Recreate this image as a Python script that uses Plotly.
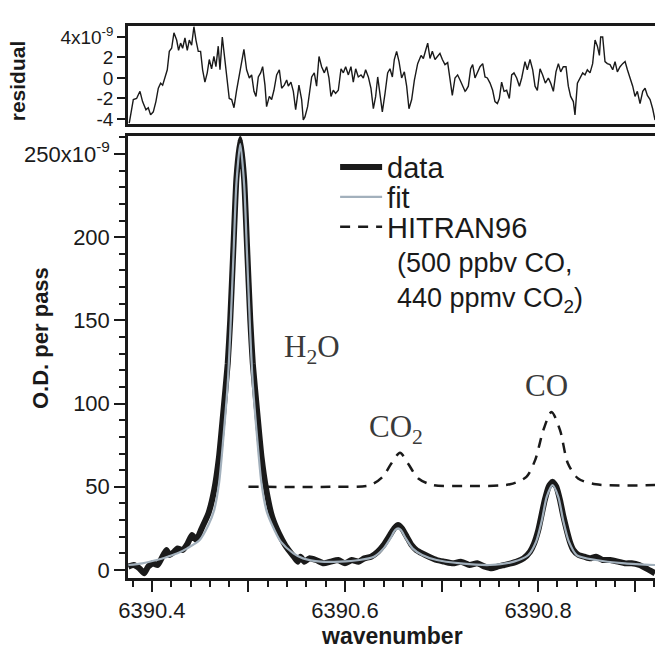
import plotly.graph_objects as go

# ---------------- data ----------------
data_wn = [6390.3755, 6390.381, 6390.387, 6390.392, 6390.396, 6390.401, 6390.406, 6390.410,
           6390.415, 6390.418, 6390.423, 6390.4265, 6390.432, 6390.437, 6390.4415, 6390.446,
           6390.4515, 6390.4585, 6390.4645, 6390.4695, 6390.4738, 6390.4785, 6390.4811, 6390.4845,
           6390.4875, 6390.4915, 6390.4955, 6390.4985, 6390.5019, 6390.5045, 6390.5092, 6390.5135,
           6390.5185, 6390.5245, 6390.5315, 6390.538, 6390.543, 6390.547, 6390.551,
           6390.554, 6390.558, 6390.563, 6390.570, 6390.578, 6390.585, 6390.593, 6390.600,
           6390.607, 6390.614, 6390.620, 6390.627, 6390.634, 6390.640, 6390.6466, 6390.651,
           6390.655, 6390.659, 6390.664, 6390.669, 6390.674, 6390.680, 6390.687, 6390.695,
           6390.703, 6390.712, 6390.720, 6390.729, 6390.737, 6390.745, 6390.752, 6390.758,
           6390.765, 6390.772, 6390.778, 6390.785, 6390.7917, 6390.796, 6390.8003, 6390.804,
           6390.807, 6390.811, 6390.815, 6390.819, 6390.8228, 6390.826, 6390.8297, 6390.833,
           6390.8366, 6390.842, 6390.848, 6390.854, 6390.860, 6390.867, 6390.875, 6390.883,
           6390.890, 6390.897, 6390.905, 6390.912, 6390.9212]
data_od = [2, 3, 1, -2, 2, 4, 3, 7,
           12, 9, 11, 13, 12, 16, 21, 18,
           25, 34, 48, 68, 94, 124, 150, 195,
           235, 259, 235, 195, 150, 124, 94, 68,
           48, 32, 22, 15, 11, 8, 5,
           8, 5, 7, 6, 4, 5, 6, 4,
           6, 5, 7, 8, 11, 15, 21, 25,
           27, 25, 20, 15, 12, 10, 8, 6,
           5, 4, 5, 3, 4, 2, 1, 2,
           3, 4, 5, 7, 11, 16, 24, 34,
           42, 50, 53, 50, 42, 33, 24, 17,
           12, 9, 8, 7, 8, 6, 6, 5,
           4, 4, 3, 1, -2]

fit_wn = [6390.3755, 6390.390, 6390.405, 6390.4165, 6390.4265, 6390.4365, 6390.4495, 6390.4585,
          6390.4645, 6390.4695, 6390.4738, 6390.4785, 6390.4811, 6390.4845, 6390.4875, 6390.4915,
          6390.4955, 6390.4985, 6390.5019, 6390.5045, 6390.5092, 6390.5135, 6390.5185, 6390.5245,
          6390.5335, 6390.5465, 6390.5565, 6390.575, 6390.595, 6390.615, 6390.630, 6390.640,
          6390.647, 6390.652, 6390.655, 6390.658, 6390.663, 6390.670, 6390.680, 6390.695,
          6390.720, 6390.750, 6390.775, 6390.790, 6390.798, 6390.804, 6390.809, 6390.815,
          6390.821, 6390.826, 6390.832, 6390.840, 6390.860, 6390.890, 6390.9212]
fit_od = [3, 4, 6, 8, 10, 13, 18, 27,
          36, 52, 78, 112, 142, 190, 232, 256,
          232, 190, 142, 112, 78, 52, 36, 27,
          17, 10, 7, 5, 5, 6, 8, 13,
          19, 24, 25, 24, 19, 13, 9, 6,
          4, 3, 5, 9, 17, 30, 44, 51,
          44, 30, 17, 9, 6, 4, 3]

hitran_wn = [6390.500, 6390.5845, 6390.626, 6390.639, 6390.648, 6390.657, 6390.6653, 6390.676,
             6390.6914, 6390.722, 6390.771, 6390.788, 6390.797, 6390.8055, 6390.814, 6390.8228,
             6390.831, 6390.8415, 6390.860, 6390.9212]
hitran_od = [50, 50, 51, 56, 64, 70.5, 64, 55,
             51, 50.5, 51.5, 56, 66, 84, 95, 84,
             64, 55, 51.5, 51]

resid_wn = [6390.3765, 6390.3807, 6390.3841, 6390.3876, 6390.3903, 6390.3938, 6390.3962, 6390.3986,
            6390.4014, 6390.4041, 6390.4066, 6390.4090, 6390.4111, 6390.4135, 6390.4159, 6390.4180,
            6390.4204, 6390.4228, 6390.4256, 6390.4276, 6390.4297, 6390.4318, 6390.4342, 6390.4366,
            6390.4387, 6390.4411, 6390.4435, 6390.4456, 6390.4480, 6390.4504, 6390.4525, 6390.4549,
            6390.4573, 6390.4594, 6390.4618, 6390.4642, 6390.4663, 6390.4687, 6390.4705, 6390.4729,
            6390.4750, 6390.4774, 6390.4801, 6390.4826, 6390.4850, 6390.4877, 6390.4912, 6390.4953,
            6390.4981, 6390.5009, 6390.5033, 6390.5057, 6390.5078, 6390.5102, 6390.5126, 6390.5147,
            6390.5171, 6390.5188, 6390.5216, 6390.5240, 6390.5264, 6390.5292, 6390.5320,
            6390.5344, 6390.5371, 6390.5396, 6390.5413, 6390.5440, 6390.5465, 6390.5489, 6390.5523,
            6390.5551, 6390.5568, 6390.5585, 6390.5613, 6390.5655, 6390.5682, 6390.5706, 6390.5731,
            6390.5758, 6390.5786, 6390.5810, 6390.5834, 6390.5855, 6390.5879, 6390.5903, 6390.5931,
            6390.5959, 6390.5983, 6390.6007, 6390.6035, 6390.6062, 6390.6086, 6390.6111, 6390.6138,
            6390.6166, 6390.6190, 6390.6214, 6390.6242, 6390.6269, 6390.6294, 6390.6318, 6390.6339,
            6390.6363, 6390.6387, 6390.6415, 6390.6442, 6390.6466, 6390.6491, 6390.6511, 6390.6535,
            6390.6560, 6390.6587, 6390.6615, 6390.6639, 6390.6663, 6390.6691, 6390.6719, 6390.6753,
            6390.6788, 6390.6812, 6390.6836, 6390.6857, 6390.6881, 6390.6905, 6390.6933, 6390.6960,
            6390.6984, 6390.7009, 6390.7036, 6390.7064, 6390.7088, 6390.7112, 6390.7140, 6390.7167,
            6390.7192, 6390.7216, 6390.7244,
            6390.7254, 6390.7278, 6390.7302, 6390.7323, 6390.7347, 6390.7371, 6390.7399, 6390.7427,
            6390.7451, 6390.7475, 6390.7503, 6390.7530, 6390.7554, 6390.7579, 6390.7599, 6390.7623,
            6390.7648, 6390.7675, 6390.7703, 6390.7727, 6390.7751, 6390.7779, 6390.7807, 6390.7831,
            6390.7865, 6390.7889, 6390.7917, 6390.7945, 6390.7969, 6390.7993, 6390.8021, 6390.8048,
            6390.8076, 6390.8107, 6390.8131, 6390.8159, 6390.8186, 6390.8211, 6390.8235, 6390.8262,
            6390.8290, 6390.8314, 6390.8338, 6390.8366, 6390.8383, 6390.8408, 6390.8435, 6390.8463,
            6390.8487, 6390.8511, 6390.8539, 6390.8566, 6390.8591, 6390.8615, 6390.8636, 6390.8649,
            6390.8670, 6390.8694, 6390.8718, 6390.8746, 6390.8774, 6390.8798, 6390.8822, 6390.8850,
            6390.8877, 6390.8902, 6390.8926, 6390.8953, 6390.8981, 6390.9005, 6390.9029, 6390.9057,
            6390.9085, 6390.9109, 6390.9133, 6390.9161, 6390.9188, 6390.9212]
resid_val = [-4.4, -2.1, -2.0, -1.3, -2.3, -3.1, -2.9, -3.6,
             -3.3, -2.3, -1.0, -0.5, -0.7, 0.0, 0.8, 2.6,
             2.9, 4.4, 3.7, 2.7, 3.4, 2.9, 3.9, 2.7,
             3.7, 3.2, 5.0, 3.7, 2.6, 2.6, 0.8, -0.4,
             0.5, 1.8, 0.9, 2.1, 1.1, 3.1, 0.8, 4.0,
             2.1, -0.2, -2.0, -2.1, -2.9, -1.2, 0.8, 2.8,
             0.8, 0.0, 0.3, -1.3, -1.8, 0.1, 0.5, 1.1,
             -0.7, -2.8, -1.8, -2.1, -1.2, 0.3, 0.8,
             -1.0, -0.7, -0.2, -0.8, -0.4, -1.3, -3.1, -0.7,
             -2.1, -4.1, -3.8, -2.8, 0.1, 0.5, -0.8, 2.1,
             1.1, 0.5, 1.1, 0.0, -1.8, -1.2, -1.5, -1.2,
             0.9, 0.5, 1.1, 0.3, 1.1, -0.4, 0.9, 0.1,
             0.3, 0.0, 0.8, 0.1, -1.0, -3.0, -1.8, 0.1,
             -1.8, -3.3, -1.5, 0.5, 0.9, 0.1, 1.8, 2.6,
             1.6, 0.0, 0.6, -0.8, -3.0, -2.1, -0.2, 1.4,
             2.2, 1.9, 2.7, 3.4, 1.9, 2.6, 1.8, 2.1,
             2.4, 1.8, 1.3, 1.5, 0.0, -1.7, 0.0, 0.3,
             -0.2, -0.8, -1.3,
             -1.2, -0.8, 0.9, 1.3, 0.0, 0.5, 1.1, 1.4,
             0.1, 0.0, -0.5, -1.2, -2.3, -2.5, -2.0, -0.4,
             -1.3, -1.2, -2.0, 0.3, 0.5, 0.0, -0.8, 0.0,
             1.6, 0.8, 1.8, 0.8, -0.8, -1.2, 0.9, 0.3,
             -0.5, 0.0, -0.5, -1.3, 0.6, 1.4, 0.6, 1.1,
             1.1, -0.8, -1.8, -2.3, -3.6, -0.5, 0.0, 0.5,
             0.3, 0.8, 0.5, 1.4, 3.7, 3.1, 2.2, 4.0,
             4.0, 1.6, 1.4, 1.3, 0.8, 1.6, 0.6, 1.1,
             1.4, 1.6, 0.8, 0.1, -0.8, -1.8, -1.3, -2.5,
             -1.3, -1.0, -1.7, -2.1, -3.0, -4.1]

x_range = [6390.3752, 6390.9212]
od_ticks = [0, 50, 100, 150, 200, 250]
od_ticktext = ["0", "50", "100", "150", "200", "250x10<sup>-9</sup>"]
wn_ticks = [6390.4, 6390.5, 6390.6, 6390.7, 6390.8, 6390.9]
wn_ticktext = ["6390.4", "", "6390.6", "", "6390.8", ""]
res_ticks = [-4, -2, 0, 2, 4]
res_ticktext = ["-4", "-2", "0", "2", "4x10<sup>-9</sup>"]

# ---------------- figure ----------------
SANS = "Liberation Sans, Arial, Helvetica, sans-serif"
INK = "#1a1a1a"
FIT_COLOR = "#a2b0bc"

fig = go.Figure()
fig.add_trace(go.Scatter(x=data_wn, y=data_od, mode="lines", name="data", legend="legend",
                         line=dict(color=INK, width=6, shape="spline", smoothing=0.5),
                         xaxis="x", yaxis="y"))
fig.add_trace(go.Scatter(x=fit_wn, y=fit_od, mode="lines", name="fit", legend="legend2",
                         line=dict(color=FIT_COLOR, width=2.2, shape="spline", smoothing=0.7),
                         xaxis="x", yaxis="y"))
fig.add_trace(go.Scatter(x=hitran_wn, y=hitran_od, mode="lines", name="HITRAN96", legend="legend3",
                         line=dict(color=INK, width=2.5, dash="10px,8px", shape="spline", smoothing=0.8),
                         xaxis="x", yaxis="y"))
fig.add_trace(go.Scatter(x=resid_wn, y=resid_val, mode="lines", showlegend=False,
                         line=dict(color=INK, width=1.4),
                         xaxis="x2", yaxis="y2"))

axis_common = dict(showline=True, linecolor=INK, linewidth=2.5, mirror=True, automargin=False,
                   showgrid=False, zeroline=False, tickcolor=INK, tickwidth=2)

leg_common = dict(xanchor="left", yanchor="middle", bgcolor="rgba(0,0,0,0)", borderwidth=0,
                  font=dict(family=SANS, size=29, color=INK), itemwidth=42)
LEG_X = 0.393

fig.update_layout(
    width=655, height=650,
    margin=dict(l=128, r=0, t=0, b=0, autoexpand=False),
    paper_bgcolor="white", plot_bgcolor="white",
    xaxis=dict(domain=[0, 1], anchor="y", range=x_range, ticks="outside", ticklen=11,
               tickvals=wn_ticks, ticktext=wn_ticktext,
               tickfont=dict(family=SANS, size=22, color=INK),
               minor=dict(dtick=0.02, tick0=6390.4, ticks="outside", ticklen=6,
                          tickwidth=2, tickcolor=INK, showgrid=False),
               **axis_common),
    yaxis=dict(domain=[0.1108, 0.7908], anchor="x", range=[-4.8, 260.8], ticks="outside",
               ticklen=11, tickvals=od_ticks, ticktext=od_ticktext,
               tickfont=dict(family=SANS, size=22, color=INK),
               minor=dict(dtick=10, tick0=0, ticks="outside", ticklen=6,
                          tickwidth=2, tickcolor=INK, showgrid=False),
               **axis_common),
    xaxis2=dict(domain=[0, 1], anchor="y2", range=x_range, ticks="", showticklabels=False,
                **axis_common),
    yaxis2=dict(domain=[0.8092, 0.96], anchor="x2", range=[-4.49, 5.07], ticks="outside",
                ticklen=8, tickvals=res_ticks, ticktext=res_ticktext,
                tickfont=dict(family=SANS, size=19, color=INK),
                **axis_common),
    legend=dict(x=LEG_X, y=0.743, **leg_common),
    legend2=dict(x=LEG_X, y=0.697, **leg_common),
    legend3=dict(x=LEG_X, y=0.651, **leg_common),
    showlegend=True,
)

ann_font = dict(family="Liberation Serif, Times New Roman, serif", size=31, color="#3a3a3a")
fig.add_annotation(x=6390.566, y=133, xref="x", yref="y", text="H<sub>2</sub>O",
                   showarrow=False, font=ann_font, xanchor="center", yanchor="middle")
fig.add_annotation(x=6390.653, y=85, xref="x", yref="y", text="CO<sub>2</sub>",
                   showarrow=False, font=ann_font, xanchor="center", yanchor="middle")
fig.add_annotation(x=6390.8083, y=111, xref="x", yref="y", text="CO",
                   showarrow=False, font=ann_font, xanchor="center", yanchor="middle")

fig.add_annotation(x=0.5066, y=0.622, xref="paper", yref="paper", xanchor="left", yanchor="top",
                   align="left", showarrow=False,
                   text="(500 ppbv CO,<br>440 ppmv CO<sub>2</sub>)",
                   font=dict(family=SANS, size=27, color=INK))

fig.add_annotation(x=-0.167, y=0.48, xref="paper", yref="paper", text="<b>O.D. per pass</b>",
                   xanchor="center", yanchor="middle",
                   textangle=-90, showarrow=False, font=dict(family=SANS, size=22, color=INK))
fig.add_annotation(x=-0.2106, y=0.875, xref="paper", yref="paper", text="<b>residual</b>",
                   xanchor="center", yanchor="middle",
                   textangle=-90, showarrow=False, font=dict(family=SANS, size=21, color=INK))
fig.add_annotation(x=0.5, y=0.022, xref="paper", yref="paper", text="<b>wavenumber</b>",
                   xanchor="center", yanchor="middle",
                   showarrow=False, font=dict(family=SANS, size=23, color=INK))

fig.write_html("out.html", config={"displayModeBar": False},
               post_script="document.body.style.margin='0px';document.body.style.overflow='hidden';")
